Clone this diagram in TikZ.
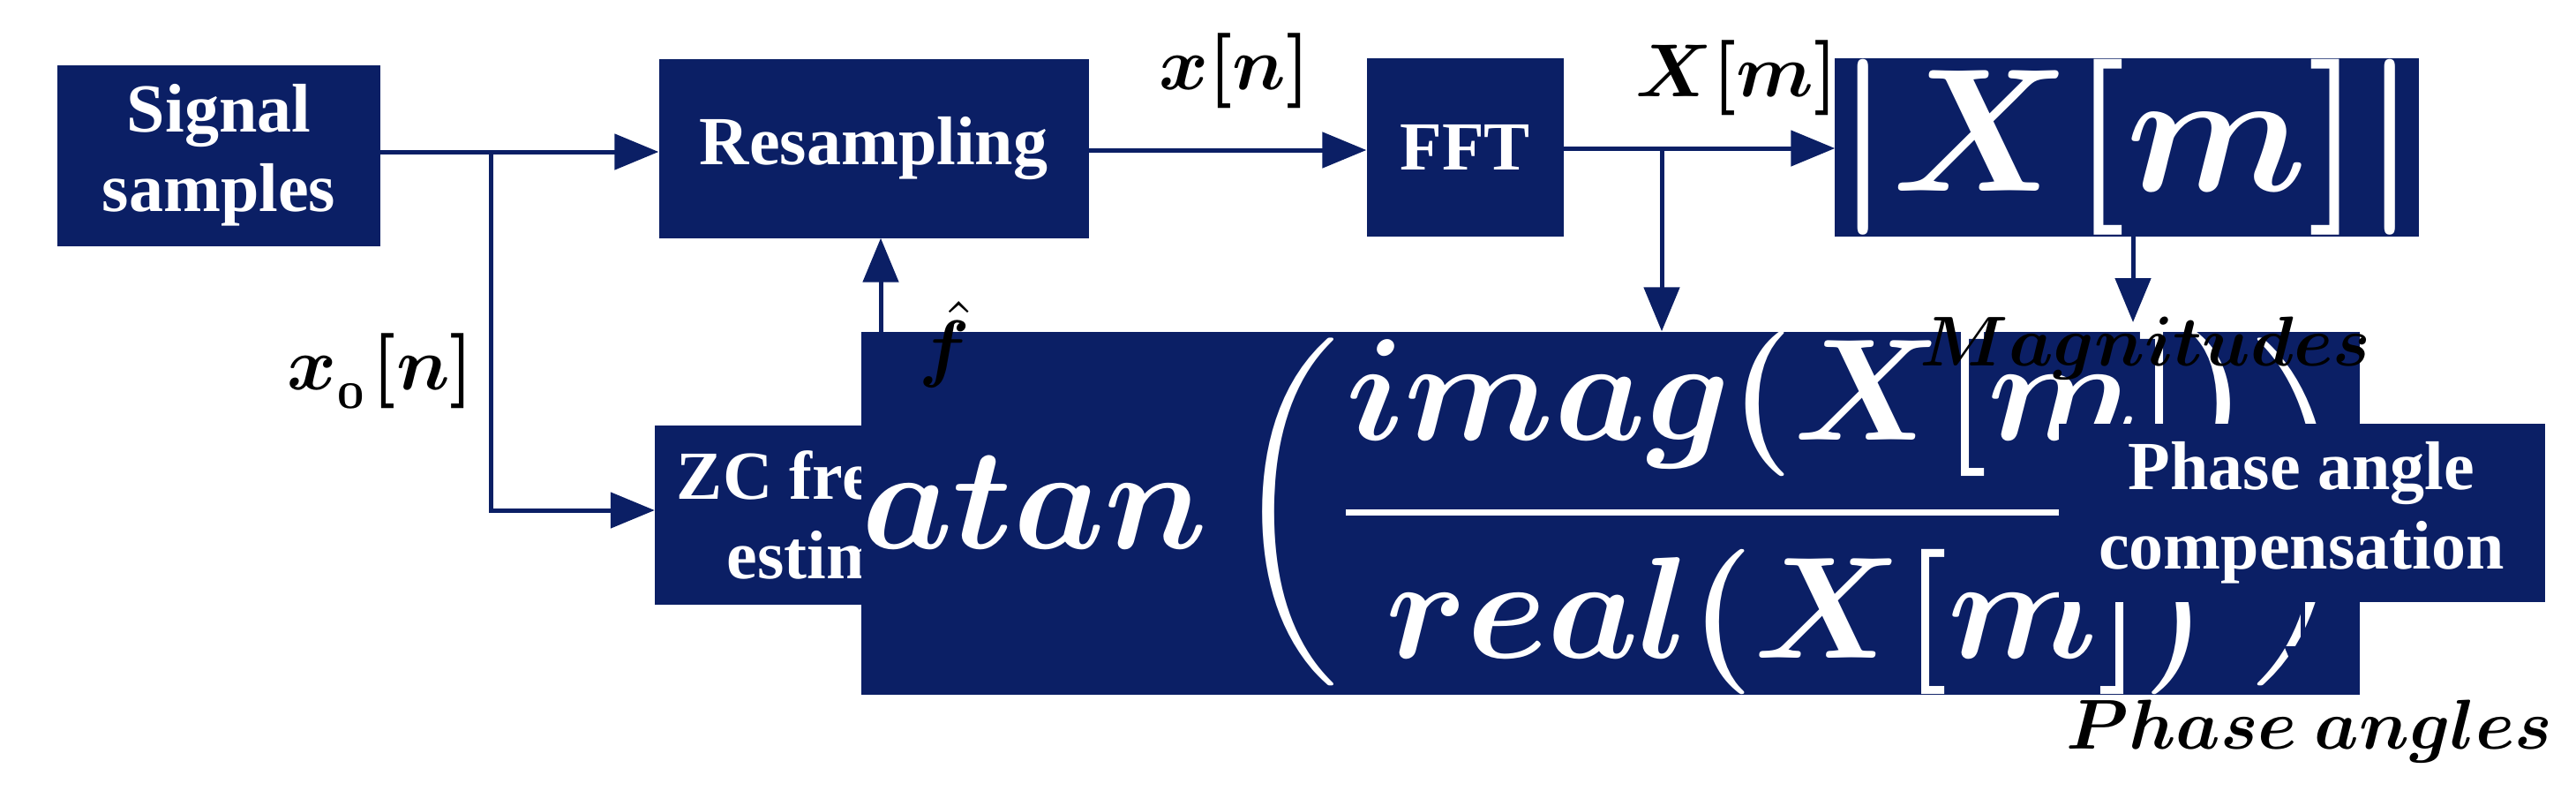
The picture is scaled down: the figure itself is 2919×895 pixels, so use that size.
\documentclass[tikz,border=0pt]{standalone}
\usepackage{graphicx}
\usepackage{amsmath,bm}
\usepackage{fontspec}
\setmainfont{Liberation Serif}
\usetikzlibrary{arrows.meta}
\definecolor{navy}{HTML}{0B1F65}
\newcommand\MyMath[2]{\scalebox{#1}{$\bm{#2}$}}
\begin{document}
\begin{tikzpicture}[x=1pt,y=-1pt,
 box/.style={fill=navy,text=white,font=\fontsize{78}{90}\selectfont\bfseries,align=center,inner sep=0pt},
 ln/.style={draw=navy,line width=5pt},
 ar/.style={ln,-{Triangle[length=50pt,width=40pt]}},
 lab/.style={text=black}]
\useasboundingbox (0,0) rectangle (2919,895);
\node[box,minimum width=366,minimum height=205] (sig) at (248,176) {Signal\\samples};
\node[box,minimum width=487,minimum height=203] (res) at (990,168) {Resampling};
\node[box,minimum width=223,minimum height=202] (fft) at (1660,167) {FFT};
\node[box,minimum width=277,minimum height=202] (mag) at (2410,167) {\MyMath{8}{|X[m]|}};
\node[box,minimum width=510,minimum height=203] (zc) at (997,583) {ZC frequency\\estimation};
\node[box,minimum width=807,minimum height=202] (at) at (1825,581) {\MyMath{6.6}{atan\left(\dfrac{imag(X[m])}{real(X[m])}\right)}};
\node[box,minimum width=551,minimum height=202] (ph) at (2608,581) {Phase angle\\compensation};
\coordinate (b1) at (556,172);
\coordinate (b2) at (556,578);
\coordinate (b3) at (1883,168);
\coordinate (m1) at (2417,365);
\coordinate (p1) at (2609,782);
\draw[ar] (sig.east |- b1) -- (res.west |- b1);
\draw[ar] (b1) -- (b2) -- (zc.west |- b2);
\draw[ar] (zc.north -| 998,0) -- (res.south -| 998,0);
\draw[ar] (res.east |- 0,170) -- (fft.west |- 0,170);
\draw[ar] (fft.east |- 0,168) -- (mag.west |- 0,168);
\draw[ar] (b3) -- (b3 |- at.north);
\draw[ar] (mag.south -| m1) -- (m1);
\draw[ar] (at.east |- 0,581) -- (ph.west |- 0,581);
\draw[ar] (ph.south -| p1) -- (p1);
\node[lab] (lx) at (1399,80) {\MyMath{8.5}{x[n]}};
\node[lab] (lX) at (1968,88) {\MyMath{8.5}{X[m]}};
\node[lab] (lx0) at (431,420) {\MyMath{8.5}{x_{{}_0}[n]}};
\node[lab] (lf) at (1070,390) {\MyMath{8.5}{\hat f}};
\node[lab] (lm) at (2431,394) {\MyMath{8}{Magnitudes}};
\node[lab] (lp) at (2617,828) {\MyMath{8}{Phase\ angles}};
\end{tikzpicture}
\end{document}
